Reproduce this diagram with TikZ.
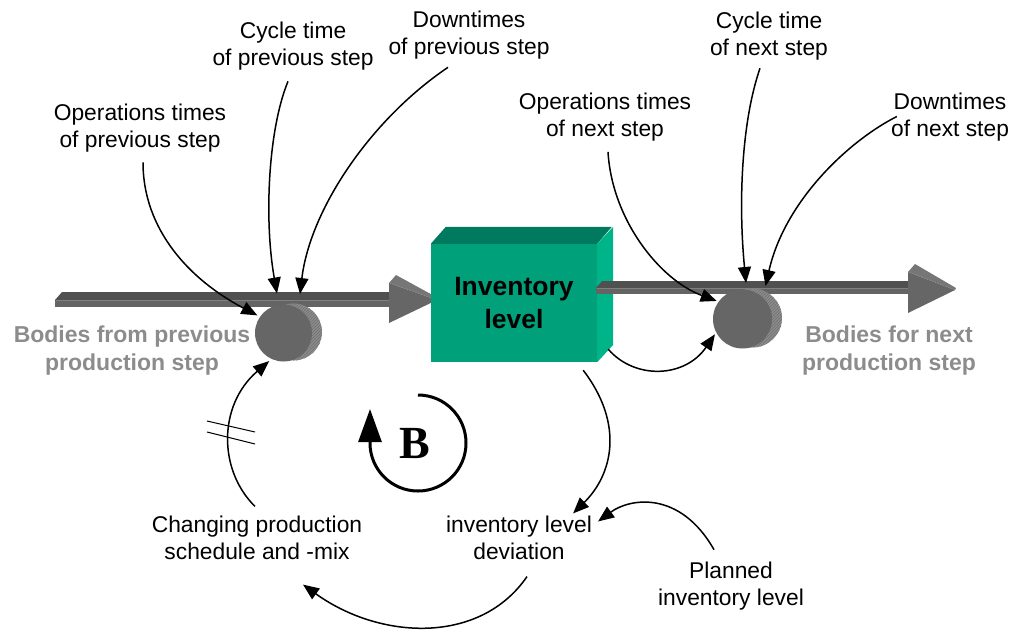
\documentclass[tikz,border=0pt]{standalone}
\usepackage{fontspec}
\setmainfont{Liberation Sans}
\newfontfamily\loopfont{Liberation Serif}
\usetikzlibrary{arrows.meta,calc,patterns}

\definecolor{boxfront}{RGB}{0,160,122}
\definecolor{boxtop}{RGB}{0,122,94}
\definecolor{boxside}{RGB}{0,180,138}
\definecolor{pipetop}{RGB}{80,80,80}
\definecolor{pipefront}{RGB}{100,100,100}
\definecolor{pipeedge}{RGB}{128,128,128}
\definecolor{headfront}{RGB}{102,102,102}
\definecolor{headtop}{RGB}{118,118,118}
\definecolor{valvefront}{RGB}{102,102,102}
\definecolor{valveside}{RGB}{140,140,140}
\definecolor{valvehatch}{RGB}{112,112,112}
\definecolor{flowtext}{RGB}{140,140,140}

\tikzset{
  lbl/.style={align=center, inner sep=0pt, font=\fontsize{22.8}{27}\selectfont},
  flowlbl/.style={align=center, inner sep=0pt, text=flowtext,
    font=\fontsize{23}{28}\selectfont\bfseries},
  stock/.style={minimum width=166pt, minimum height=118pt, inner sep=0pt,
    fill=boxfront, align=center, font=\fontsize{26.5}{33}\selectfont\bfseries},
  valve/.style={circle, minimum size=57pt, inner sep=0pt, outer sep=3pt},
  link/.style={line width=1.5pt, -{Triangle[length=16pt,width=13pt]}},
  delaymark/.style={line width=1pt},
  loopline/.style={line width=3pt},
  highlight/.style={draw=pipeedge, line width=0.7pt},
}

\begin{document}
\begin{tikzpicture}[x=1pt,y=-1pt]
\useasboundingbox (0,0) rectangle (1014,633);

% ---- inflow pipe ----
\fill[pipetop] (55,300) -- (62,292) -- (392,292) -- (392,300) -- cycle;
\fill[pipefront] (55,300) rectangle (392,307);
\draw[highlight] (56,300.5) -- (392,300.5);
\fill[headfront] (389,283) -- (437,300) -- (389,323) -- cycle;
\fill[headtop] (389,283) -- (396,275) -- (438,298) -- (437,300) -- cycle;
\draw[highlight, densely dotted] (391,283) -- (436,299);

% ---- stock ----
\node[stock] (box) at (514,303) {Inventory\\level};
\fill[boxtop] (box.north west) -- ++(15,-17) -- ++(166,0) -- (box.north east) -- cycle;
\fill[boxside] (box.north east) -- ++(16,-17) -- ++(0,118) -- (box.south east) -- cycle;

% ---- outflow pipe ----
\fill[pipetop] (596,288) -- (602,281) -- (910,281) -- (910,288) -- cycle;
\fill[pipefront] (596,288) rectangle (910,294);
\draw[highlight] (597,288.5) -- (910,288.5);
\fill[headfront] (908,272) -- (955,290) -- (908,313) -- cycle;
\fill[headtop] (908,272) -- (915,264) -- (956,288) -- (955,290) -- cycle;
\draw[highlight, densely dotted] (910,272) -- (954,289);

% ---- valves ----
\node[valve] (lvalve) at (283.5,333) {};
\fill[valveside] ($(lvalve.center)+(10,-1)$) circle (28.5);
\fill[pattern=north east lines, pattern color=valvehatch] ($(lvalve.center)+(10,-1)$) circle (28.5);
\fill[valvefront] (lvalve.center) circle (28.5);

\node[valve] (rvalve) at (742.5,319) {};
\fill[valveside] ($(rvalve.center)+(10,-1)$) circle (29.5);
\fill[pattern=north east lines, pattern color=valvehatch] ($(rvalve.center)+(10,-1)$) circle (29.5);
\fill[valvefront] (rvalve.center) circle (29.5);

% ---- labels ----
\node[lbl] (opprev) at (140,128) {Operations times\\of previous step};
\node[lbl] (ctprev) at (293,46) {Cycle time\\of previous step};
\node[lbl] (dtprev) at (469,35) {Downtimes\\of previous step};
\node[lbl] (opnext) at (605,117.5) {Operations times\\of next step};
\node[lbl] (ctnext) at (769,36) {Cycle time\\of next step};
\node[lbl] (dtnext) at (950,117.5) {Downtimes\\of next step};
\node[flowlbl] (inflow) at (132,351) {Bodies from previous\\production step};
\node[flowlbl] (outflow) at (889,351) {Bodies for next\\production step};
\node[lbl] (chg) at (257,537.5) {Changing production\\schedule and -mix};
\node[lbl] (dev) at (519,537.5) {inventory level\\deviation};
\node[lbl] (plan) at (731,586) {Planned\\inventory level};
\node[font=\fontsize{46}{46}\selectfont\loopfont\bfseries] (bsym) at (415,443) {B};

% ---- influences on the inflow valve ----
\draw[link] ($(opprev.south)+(3,10)$) .. controls (143,230) and (190,280) .. (lvalve.146);
\draw[link] ($(ctprev.south)+(-5,11)$) .. controls (268,130) and (264,220) .. ($(lvalve.north)+(-6.5,-8)$);
\draw[link] ($(dtprev.south)+(-21,8)$) .. controls (370,120) and (310,210) .. ($(lvalve.north)+(16.5,-7.5)$);

% ---- influences on the outflow valve ----
\draw[link] ($(opnext.south)+(3,10)$) .. controls (612,220) and (660,280) .. (rvalve.145);
\draw[link] ($(ctnext.south)+(-9,8)$) .. controls (742,120) and (738,200) .. ($(rvalve.north)+(3.5,-4.5)$);
\draw[link] ($(dtnext.west)+(6,-1)$) .. controls (850,140) and (785,200) .. ($(rvalve.north)+(23,-1.5)$);
\draw[link] ($(box.south east)+(11,-13)$) .. controls (635,380) and (685,378) .. (rvalve.209);

% ---- balancing loop ----
\draw[link] ($(box.south east)+(-14,8)$) .. controls (625,425) and (612,475) .. ($(dev.north east)+(-19,-2)$);
\draw[link] ($(plan.north)+(-17,-12)$) .. controls (680,490) and (630,498) .. ($(dev.north east)+(6,6)$);
\draw[link] ($(dev.south)+(8,17)$) .. controls (480,645) and (380,640) .. ($(chg.south)+(46,25)$);
\draw[link] ($(chg.north)+(-2,-9)$) .. controls (218,470) and (218,405) .. (lvalve.243);
\draw[delaymark] (207,421) -- (255,432);
\draw[delaymark] (207,432) -- (255,444);

% ---- loop marker ----
\draw[loopline, -{Triangle[length=33pt,width=23pt]}]
  ($(bsym.center)+(3,-48)$) arc[start angle=-90, end angle=180, radius=48] -- ++(0,-34);
\end{tikzpicture}
\end{document}
